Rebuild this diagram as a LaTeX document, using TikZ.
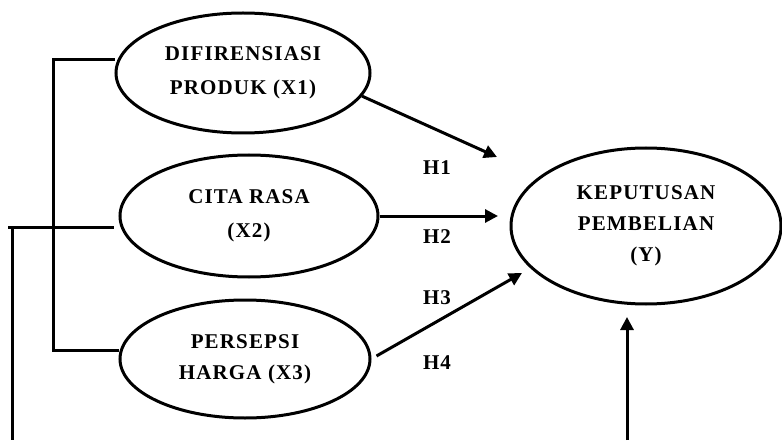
\documentclass[tikz,border=0pt]{standalone}
\usepackage{fontspec}
\setmainfont{Liberation Serif}
\newfontfamily\widefont[LetterSpace=5.5]{Liberation Serif}
\usepackage{tikz}
\usetikzlibrary{shapes.geometric,arrows.meta,positioning,calc}
\tikzset{
  var/.style  = {ellipse, draw=black, line width=3pt, align=center,
                 inner sep=0pt, font=\widefont\fontsize{21}{34}\selectfont\bfseries},
  ln/.style   = {draw=black, line width=3pt},
  fl/.style   = {-{Triangle[length=13pt,width=13pt]}, draw=black, line width=3pt},
  lab/.style  = {font=\widefont\fontsize{21}{22}\selectfont\bfseries, inner sep=1pt},
}
\begin{document}
\begin{tikzpicture}[x=1pt,y=1pt]
  \useasboundingbox (0,0) rectangle (782,440);

  \node[var, minimum width=254pt, minimum height=120pt] (x1) at (243,367) {DIFIRENSIASI\\PRODUK (X1)};
  \node[var, minimum width=258pt, minimum height=122pt] (x2) at (249,224) {CITA RASA\\(X2)};
  \node[var, minimum width=250pt, minimum height=118pt, font=\widefont\fontsize{21}{31}\selectfont\bfseries] (x3) at (245,81) {PERSEPSI\\HARGA (X3)};
  \node[var, minimum width=270pt, minimum height=156pt, font=\widefont\fontsize{21}{31}\selectfont\bfseries] (y) at (646,214) {KEPUTUSAN\\PEMBELIAN\\(Y)};

  \node[lab] (h1) at (437,272) {H1};
  \node[lab] (h2) at (437,203) {H2};
  \node[lab] (h3) at (437,142) {H3};
  \node[lab] (h4) at (437,77) {H4};

  \coordinate (t1) at (497,283);
  \coordinate (t2) at (498,224);
  \coordinate (t3) at (522,167);
  \coordinate (c2) at (8,213);
  \coordinate (v2) at (12,211);
  \coordinate (b2) at (12,0);
  \coordinate (by) at (627,0);
  \coordinate (ty) at (627,123);

  \draw[fl] (x1.-11) -- (t1);
  \draw[fl] (x2.east) -- (t2);
  \draw[fl] ([shift={(5pt,3pt)}]x3.east) -- (t3);
  \draw[ln] ([yshift=13pt]x1.west) -- ++(-61,0) |- ([yshift=9pt]x3.west);
  \draw[ln] ([shift={(-5pt,-11pt)}]x2.west) -- (c2);
  \draw[ln] (v2) -- (b2);
  \draw[fl] (by) -- (ty);
\end{tikzpicture}
\end{document}
